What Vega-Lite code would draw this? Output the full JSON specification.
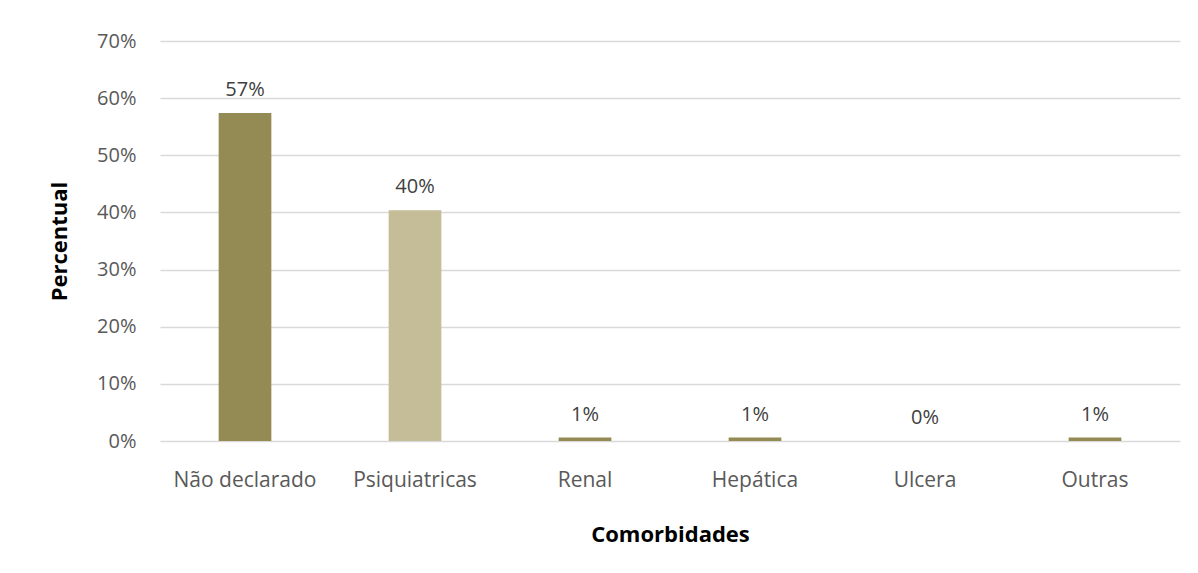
{
  "$schema": "https://vega.github.io/schema/vega-lite/v6.json",
  "autosize": {"type": "none"},
  "width": 1020,
  "height": 400,
  "padding": {"left": 160, "top": 41, "right": 18, "bottom": 132},
  "background": "white",
  "config": {
    "view": {"stroke": null},
    "font": "Open Sans"
  },
  "data": {
    "values": [
      {"categoria": "Não declarado", "percentual": 0.574, "grupo": "a"},
      {"categoria": "Psiquiatricas", "percentual": 0.404, "grupo": "b"},
      {"categoria": "Renal", "percentual": 0.006, "grupo": "a"},
      {"categoria": "Hepática", "percentual": 0.006, "grupo": "a"},
      {"categoria": "Ulcera", "percentual": 0.0, "grupo": "a"},
      {"categoria": "Outras", "percentual": 0.006, "grupo": "a"}
    ]
  },
  "encoding": {
    "x": {
      "field": "categoria",
      "type": "nominal",
      "sort": null,
      "scale": {"paddingInner": 0.69, "paddingOuter": 0.345},
      "axis": {
        "title": "Comorbidades",
        "titleFont": "Open Sans",
        "titleFontSize": 22,
        "titleFontWeight": "bold",
        "titleColor": "#000000",
        "titlePadding": 34,
        "labelAngle": 0,
        "labelFont": "Open Sans",
        "labelFontSize": 21,
        "labelColor": "#595959",
        "labelPadding": 28,
        "ticks": false,
        "domain": false,
        "grid": false
      }
    },
    "y": {
      "field": "percentual",
      "type": "quantitative",
      "scale": {"domain": [0, 0.7], "nice": false},
      "axis": {
        "title": "Percentual",
        "titleFont": "Open Sans",
        "titleFontSize": 22,
        "titleFontWeight": "bold",
        "titleColor": "#000000",
        "titlePadding": 25,
        "format": ".0%",
        "values": [0, 0.1, 0.2, 0.3, 0.4, 0.5, 0.6, 0.7],
        "labelFont": "Open Sans",
        "labelFontSize": 20,
        "labelColor": "#595959",
        "labelPadding": 24,
        "ticks": false,
        "domain": false,
        "grid": true,
        "gridColor": "#D9D9D9",
        "gridWidth": 1.3
      }
    }
  },
  "layer": [
    {
      "mark": {"type": "bar"},
      "encoding": {
        "color": {
          "field": "grupo",
          "type": "nominal",
          "scale": {"domain": ["a", "b"], "range": ["#948A54", "#C4BD97"]},
          "legend": null
        }
      }
    },
    {
      "mark": {"type": "text", "dy": -13, "fontSize": 20, "color": "#404040", "font": "Open Sans", "baseline": "bottom"},
      "encoding": {
        "text": {"field": "percentual", "type": "quantitative", "format": ".0%"}
      }
    }
  ]
}
